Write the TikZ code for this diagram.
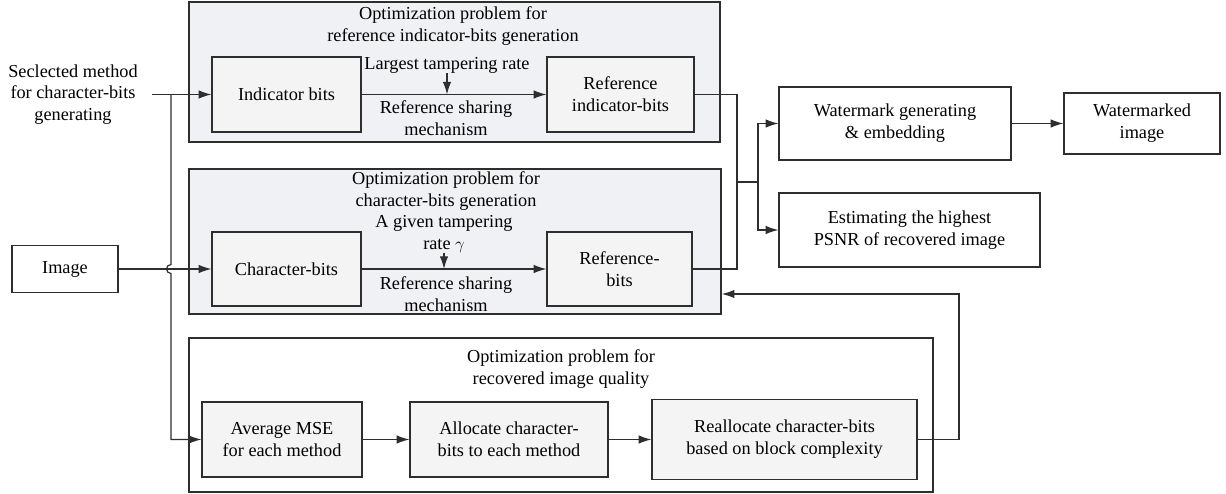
\documentclass[tikz,border=0pt]{standalone}
\usepackage{fontspec}
\setmainfont{Liberation Serif}
\usetikzlibrary{arrows.meta}

\definecolor{linegray}{HTML}{2E2E2E}
\definecolor{groupfill}{HTML}{F0F1F4}
\definecolor{boxfill}{HTML}{F4F4F4}

\begin{document}
\begin{tikzpicture}[x=0.025cm, y=-0.025cm,
  every node/.style={font=\fontsize{13}{15.5}\selectfont, align=center, inner sep=0pt},
  group/.style={draw=linegray, line width=0.95pt, fill=groupfill},
  block/.style={draw=linegray, line width=0.85pt, fill=boxfill},
  plain/.style={draw=linegray, line width=0.85pt, fill=white},
  link/.style={draw=linegray, line width=0.85pt},
  flow/.style={link, -{Latex[length=9pt,width=6pt]}}]

  \useasboundingbox (0,0) rectangle (1226,494);

  % three optimization groups
  \node[group, minimum width=13.275cm, minimum height=3.5cm] (top) at (454.5,72) {};
  \node[group, minimum width=13.3cm, minimum height=3.625cm] (mid) at (455,241.5) {};
  \node[plain, line width=0.95pt, minimum width=18.6cm, minimum height=3.85cm] (bot) at (561,415) {};

  \node (ttop) at (453,26) {Optimization problem for\\reference indicator-bits generation};
  \node (tmid) at (446,191) {Optimization problem for\\character-bits generation};
  \node (tbot) at (561,369) {Optimization problem for\\recovered image quality};

  % inputs
  \node[inner xsep=0.35cm] (sel) at (73,94.5) {Seclected method\\for character-bits\\generating};
  \node[plain, minimum width=2.65cm, minimum height=1.175cm] (img) at (65,269) {Image};

  % inner blocks
  \node[block, minimum width=3.725cm, minimum height=1.875cm] (ind) at (286.5,94.5) {Indicator bits};
  \node[block, minimum width=3.675cm, minimum height=1.875cm] (refind) at (620.5,94.5) {Reference\\indicator-bits};
  \node[block, minimum width=3.725cm, minimum height=1.85cm] (charb) at (286.5,269) {Character-bits};
  \node[block, minimum width=3.625cm, minimum height=1.85cm] (refb) at (619.5,269) {Reference-\\bits};

  \node[block, minimum width=4cm, minimum height=1.875cm] (mse) at (282,439.5) {Average MSE\\for each method};
  \node[block, minimum width=4.95cm, minimum height=1.875cm] (alloc) at (509,439.5) {Allocate character-\\bits to each method};
  \node[block, minimum width=6.625cm, minimum height=2cm] (realloc) at (784.5,439.5) {Reallocate character-bits\\based on block complexity};

  % outputs
  \node[plain, minimum width=5.8cm, minimum height=1.825cm] (wm) at (895,123.5) {Watermark generating\\\& embedding};
  \node[plain, minimum width=6.525cm, minimum height=1.85cm] (est) at (909.5,230) {Estimating the highest\\PSNR of recovered image};
  \node[plain, minimum width=3.9cm, minimum height=1.525cm] (wmi) at (1142,123.5) {Watermarked\\image};

  % labels on the sharing arrows
  \node (lrate) at (447,65) {Largest tampering rate};
  \node (share1) at (446,118) {Reference sharing\\mechanism};
  \node (grate) at (444,234) {A given tampering\\rate $\gamma$};
  \node (share2) at (446,294.5) {Reference sharing\\mechanism};

  \draw[flow] (ind) -- (refind);
  \draw[flow] (lrate.south) -- (lrate.south |- ind.east);
  \draw[flow] (charb) -- (refb);
  \draw[flow] (grate.south) -- (grate.south |- charb.east);

  \draw[flow] (mse) -- (alloc);
  \draw[flow] (alloc) -- (realloc);

  % left feeds, the vertical one hops over the image line
  \coordinate (vx) at (171,0);
  \draw[flow] (sel.east) -- (ind.west);
  \draw[flow] (img.east) -- (charb.west);
  \draw[flow] (vx |- ind.west) -- ([yshift=1.125mm]vx |- img.east)
    arc[start angle=90, end angle=270, radius=1.125mm] |- (mse.west);

  % right side
  \coordinate (jn) at (737,182);
  \coordinate (sp) at (758,182);
  \draw[link] (refind.east) -| (jn);
  \draw[link] (refb.east) -| (jn);
  \draw[flow] (jn) -- (sp) |- (wm.west);
  \draw[flow] (sp) |- (est.west);
  \draw[flow] (wm) -- (wmi);

  % feedback into the middle group
  \coordinate (fb) at (959,294);
  \draw[flow] (realloc.east) -| (fb) -- (fb -| mid.east);

\end{tikzpicture}
\end{document}
